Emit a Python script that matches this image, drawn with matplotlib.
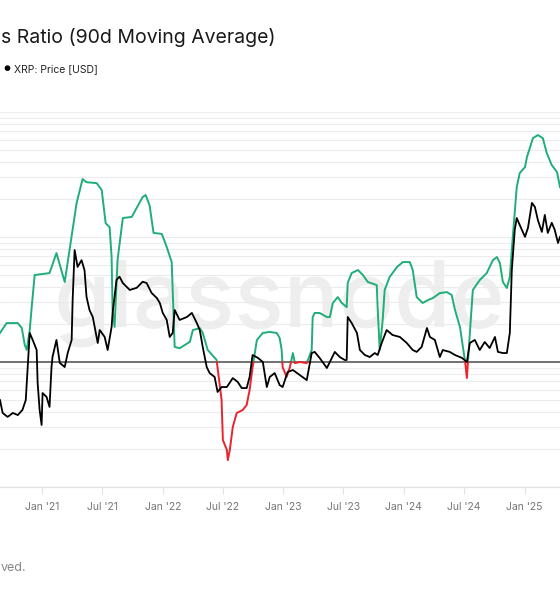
import numpy as np
import pandas as pd
import matplotlib
matplotlib.use('Agg')
import matplotlib.pyplot as plt
import matplotlib.dates as mdates
from matplotlib.ticker import LogLocator, NullFormatter, NullLocator

plt.rcParams['font.family'] = ['Inter', 'DejaVu Sans']

# Realized profit/loss ratio (90d MA)
ratio_dates = ['2020-08-26', '2020-09-15', '2020-10-19', '2020-10-31', '2020-11-09', '2020-11-15',
               '2020-11-24', '2020-11-30', '2020-12-09', '2021-01-23', '2021-02-13', '2021-03-10',
               '2021-04-15', '2021-05-03', '2021-05-15', '2021-06-15', '2021-06-30', '2021-07-12',
               '2021-07-24', '2021-07-30', '2021-08-02', '2021-08-08', '2021-08-17', '2021-09-02',
               '2021-09-29', '2021-11-01', '2021-11-10', '2021-11-22', '2021-12-04', '2021-12-29',
               '2022-01-13', '2022-01-28', '2022-01-31', '2022-02-06', '2022-02-21', '2022-03-24',
               '2022-04-02', '2022-04-23', '2022-05-02', '2022-05-17', '2022-06-13', '2022-06-28',
               '2022-07-02', '2022-07-14', '2022-07-17', '2022-07-23', '2022-08-01', '2022-08-13',
               '2022-08-31', '2022-09-12', '2022-09-21', '2022-09-30', '2022-10-13', '2022-10-31',
               '2022-11-21', '2022-12-12', '2022-12-21', '2022-12-27', '2022-12-30', '2023-01-11',
               '2023-01-21', '2023-01-30', '2023-02-05', '2023-02-20', '2023-03-13', '2023-03-28',
               '2023-03-31', '2023-04-06', '2023-04-21', '2023-05-13', '2023-05-22', '2023-05-31',
               '2023-06-15', '2023-06-27', '2023-07-12', '2023-07-15', '2023-07-27', '2023-08-15',
               '2023-08-30', '2023-09-14', '2023-10-11', '2023-10-14', '2023-10-20', '2023-10-29',
               '2023-11-04', '2023-11-19', '2023-12-11', '2023-12-29', '2024-01-19', '2024-01-28',
               '2024-02-09', '2024-02-27', '2024-03-14', '2024-03-29', '2024-04-19', '2024-05-10',
               '2024-05-25', '2024-06-04', '2024-06-19', '2024-07-04', '2024-07-10', '2024-07-19',
               '2024-07-28', '2024-08-18', '2024-09-08', '2024-09-27', '2024-10-09', '2024-10-18',
               '2024-10-27', '2024-11-08', '2024-11-17', '2024-11-26', '2024-12-08', '2024-12-17',
               '2025-01-02', '2025-01-08', '2025-01-26', '2025-02-10', '2025-02-25', '2025-03-09',
               '2025-03-24', '2025-04-09', '2025-04-18']
ratio_vals = [1.71, 2.05, 2.05, 1.87, 1.37, 1.25,
              1.80, 2.75, 4.97, 5.15, 7.45, 4.37,
              18.7, 29.1, 27.5, 27.0, 23.8, 12.9,
              12.0, 6.92, 2.61, 1.91, 6.55, 14.2,
              14.5, 20.9, 21.7, 18.0, 10.8, 10.6,
              8.32, 6.31, 3.77, 1.32, 1.29, 1.45,
              1.80, 1.87, 1.71, 1.25, 1.04, 0.50,
              0.238, 0.198, 0.164, 0.198, 0.302, 0.391,
              0.413, 0.453, 0.597, 0.91, 1.50, 1.71,
              1.74, 1.71, 1.56, 1.25, 0.91, 0.76,
              0.91, 1.18, 0.98, 1.00, 0.98, 1.25,
              2.29, 2.47, 2.47, 2.29, 2.29, 2.97,
              3.31, 2.97, 2.75, 4.29, 5.15, 5.45,
              4.97, 4.37, 4.13, 2.61, 1.25, 2.17,
              3.77, 4.79, 5.75, 6.31, 6.31, 5.45,
              3.31, 2.97, 3.13, 3.25, 3.56, 3.63,
              3.44, 2.61, 1.91, 1.04, 0.745, 1.71,
              3.77, 4.53, 5.15, 6.55, 6.92, 6.19,
              4.37, 3.91, 4.79, 10.0, 25.1, 32.5,
              36.3, 43.7, 61.9, 65.5, 61.9, 47.0,
              37.7, 33.1, 25.1]

# XRP price [USD]
price_dates = ['2020-08-26', '2020-09-03', '2020-09-18', '2020-10-04', '2020-10-19', '2020-11-02',
               '2020-11-12', '2020-11-18', '2020-11-24', '2020-12-03', '2020-12-15', '2020-12-18',
               '2020-12-24', '2020-12-30', '2021-01-02', '2021-01-14', '2021-01-23', '2021-01-29',
               '2021-02-01', '2021-02-13', '2021-02-23', '2021-03-10', '2021-03-19', '2021-03-31',
               '2021-04-03', '2021-04-09', '2021-04-18', '2021-04-30', '2021-05-09', '2021-05-15',
               '2021-05-24', '2021-06-03', '2021-06-18', '2021-06-24', '2021-07-09', '2021-07-18',
               '2021-07-30', '2021-08-02', '2021-08-14', '2021-08-23', '2021-09-02', '2021-09-23',
               '2021-10-14', '2021-11-01', '2021-11-13', '2021-11-28', '2021-12-14', '2021-12-23',
               '2022-01-01', '2022-01-13', '2022-01-22', '2022-01-31', '2022-02-06', '2022-02-21',
               '2022-03-15', '2022-03-30', '2022-04-14', '2022-04-23', '2022-05-02', '2022-05-14',
               '2022-05-23', '2022-06-07', '2022-06-16', '2022-06-28', '2022-07-14', '2022-08-01',
               '2022-08-16', '2022-08-28', '2022-09-12', '2022-09-21', '2022-09-30', '2022-10-16',
               '2022-10-31', '2022-11-12', '2022-11-21', '2022-12-06', '2022-12-21', '2022-12-30',
               '2023-01-14', '2023-01-30', '2023-02-20', '2023-03-13', '2023-03-28', '2023-04-06',
               '2023-04-21', '2023-05-13', '2023-05-22', '2023-06-06', '2023-06-21', '2023-07-06',
               '2023-07-12', '2023-07-15', '2023-07-27', '2023-08-12', '2023-08-21', '2023-09-05',
               '2023-09-20', '2023-10-05', '2023-10-14', '2023-10-26', '2023-11-10', '2023-11-28',
               '2023-12-20', '2024-01-10', '2024-01-28', '2024-02-09', '2024-02-24', '2024-03-11',
               '2024-03-20', '2024-04-04', '2024-04-19', '2024-04-28', '2024-05-19', '2024-06-04',
               '2024-06-25', '2024-07-10', '2024-07-19', '2024-08-03', '2024-08-18', '2024-09-02',
               '2024-09-17', '2024-10-03', '2024-10-12', '2024-10-27', '2024-11-08', '2024-11-17',
               '2024-11-23', '2024-12-02', '2024-12-08', '2024-12-17', '2025-01-02', '2025-01-11',
               '2025-01-23', '2025-02-01', '2025-02-10', '2025-02-22', '2025-03-03', '2025-03-12',
               '2025-03-24', '2025-04-02', '2025-04-12', '2025-04-18']
price_vals = [0.264, 0.224, 0.213, 0.224, 0.218, 0.233,
              0.264, 0.403, 0.623, 0.570, 0.501, 0.329,
              0.233, 0.192, 0.289, 0.275, 0.242, 0.403,
              0.458, 0.570, 0.425, 0.403, 0.482, 0.570,
              0.95, 1.80, 1.45, 1.58, 1.39, 0.99,
              0.836, 0.764, 0.548, 0.647, 0.592, 0.501,
              0.673, 0.805, 1.23, 1.28, 1.18, 1.08,
              1.11, 1.20, 1.18, 1.04, 0.974, 0.914,
              0.805, 0.736, 0.592, 0.623, 0.836, 0.736,
              0.764, 0.805, 0.708, 0.647, 0.521, 0.403,
              0.373, 0.355, 0.293, 0.312, 0.312, 0.350,
              0.333, 0.308, 0.308, 0.355, 0.470, 0.453,
              0.430, 0.312, 0.355, 0.373, 0.320, 0.312,
              0.378, 0.388, 0.364, 0.341, 0.482, 0.489,
              0.453, 0.398, 0.430, 0.489, 0.458, 0.441,
              0.441, 0.764, 0.708, 0.623, 0.501, 0.470,
              0.458, 0.482, 0.470, 0.548, 0.647, 0.607,
              0.592, 0.548, 0.501, 0.489, 0.521, 0.664,
              0.592, 0.570, 0.458, 0.501, 0.489, 0.470,
              0.453, 0.430, 0.548, 0.570, 0.501, 0.555,
              0.514, 0.592, 0.489, 0.482, 0.482, 0.623,
              1.39, 2.33, 2.71, 2.48, 2.13, 2.39,
              3.29, 3.12, 2.64, 2.27, 2.82, 2.24,
              2.55, 2.33, 1.97, 2.13]

x_start, x_end = '2020-08-26', '2025-04-18'

GREEN = '#1fae78'
RED = '#e8242e'

# split the ratio line into green (>1) and red (<1) parts
t = mdates.date2num(pd.to_datetime(ratio_dates))
lr = np.log10(np.array(ratio_vals))
xs, ys = [t[0]], [lr[0]]
for i in range(1, len(t)):
    a, b = lr[i - 1], lr[i]
    if a * b < 0:
        f = a / (a - b)
        xs.append(t[i - 1] + f * (t[i] - t[i - 1]))
        ys.append(0.0)
    xs.append(t[i])
    ys.append(b)
xs = np.array(xs)
ys = np.array(ys)
vals = 10 ** ys
green = np.where(ys >= 0, vals, np.nan)
red = np.where(ys <= 0, vals, np.nan)

fig = plt.figure(figsize=(5.6, 6), dpi=100)
ax = fig.add_axes([0, 113 / 600, 1, 382 / 600])

ax.set_yscale('log')
ax.set_ylim(0.1, 114)
ax.yaxis.set_major_locator(LogLocator(base=10))
ax.yaxis.set_minor_locator(LogLocator(base=10, subs=np.arange(2, 10)))
ax.yaxis.set_minor_formatter(NullFormatter())
ax.grid(which='both', axis='y', color='#ececec', lw=0.8)
ax.tick_params(axis='y', which='both', left=False, right=False, labelleft=False, length=0)

ax.text(0.5, 0.42, 'glassnode', transform=ax.transAxes, ha='center', va='baseline',
        fontsize=66, color='#eeeeee', fontweight='medium', zorder=0.5)

ax.axhline(1, color='#666666', lw=1.3, zorder=2)
ax.plot(xs, green, color=GREEN, lw=1.4, zorder=3)
ax.plot(xs, red, color=RED, lw=1.4, zorder=3)

ax2 = ax.twinx()
ax2.set_yscale('log')
ax2.set_ylim(0.0869, 11.5)
ax2.plot(pd.to_datetime(price_dates), price_vals, color='black', lw=1.3, zorder=4)
ax2.yaxis.set_major_locator(NullLocator())
ax2.yaxis.set_minor_locator(NullLocator())
ax2.tick_params(axis='y', which='both', left=False, right=False, labelleft=False,
                labelright=False, length=0)

for a in (ax, ax2):
    for s in ('top', 'left', 'right'):
        a.spines[s].set_visible(False)
    a.spines['bottom'].set_color('#e2e2e2')
    a.set_xlim(pd.Timestamp(x_start), pd.Timestamp(x_end))

ax.xaxis.set_major_locator(mdates.MonthLocator(bymonth=[1, 7]))
ax.xaxis.set_major_formatter(mdates.DateFormatter("%b '%y"))
ax.tick_params(axis='x', length=5, color='#e2e2e2', labelsize=7.5, labelcolor='#777777', pad=6)

fig.text(0.001, 1 - 43 / 600, 's Ratio (90d Moving Average)', fontsize=14, color='#1a1a1a',
         ha='left', va='baseline')
fig.text(7 / 560, 1 - 69 / 600, '●', fontsize=5.5, color='black', ha='center', va='center')
fig.text(14 / 560, 1 - 69 / 600, 'XRP: Price [USD]', fontsize=7.5, color='#222222',
         ha='left', va='center')
fig.text(0.001, 1 - 568 / 600, 'ved.', fontsize=9, color='#888888', ha='left', va='center')

fig.savefig('out.png', dpi=100)
